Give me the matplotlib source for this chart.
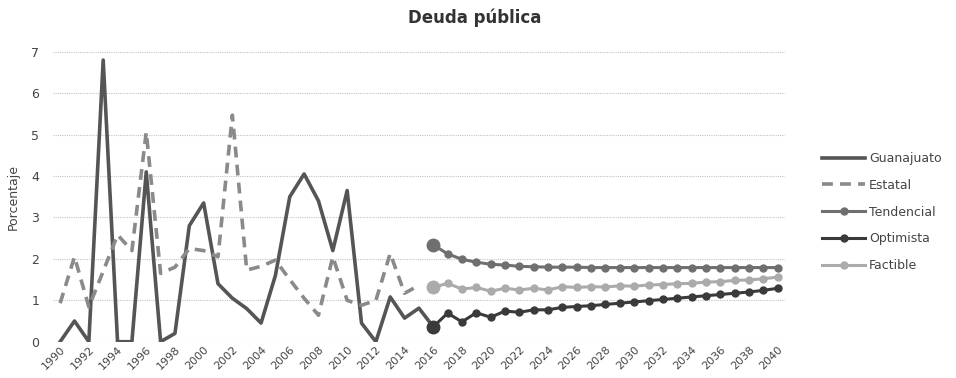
import numpy as np
import matplotlib.pyplot as plt

# historical series, 1990-2016
years_hist = np.arange(1990, 2017)
guanajuato = [0, 0.5, 0, 6.8, 0, 0, 4.1, 0, 0.2, 2.8, 3.35, 1.4, 1.05, 0.8, 0.45,
              1.6, 3.5, 4.05, 3.4, 2.2, 3.65, 0.45, 0, 1.08, 0.57, 0.81, 0.36]
years_est = np.arange(1990, 2016)
estatal = [0.93, 2.05, 0.84, 1.7, 2.58, 2.2, 5.06, 1.65, 1.8, 2.25, 2.2, 2.05, 5.47,
           1.73, 1.82, 1.97, 1.5, 1.05, 0.64, 2.05, 1.0, 0.88, 1.0, 2.13, 1.17, 1.36]

# scenarios, 2016-2040
years_fut = np.arange(2016, 2041)
tendencial = [2.34, 2.12, 1.99, 1.92, 1.87, 1.85, 1.82, 1.81, 1.8, 1.8, 1.8, 1.79, 1.79,
              1.79, 1.79, 1.79, 1.79, 1.79, 1.79, 1.79, 1.79, 1.79, 1.79, 1.79, 1.79]
optimista = [0.36, 0.69, 0.48, 0.7, 0.59, 0.74, 0.71, 0.77, 0.77, 0.83, 0.85, 0.87, 0.9,
             0.93, 0.96, 0.99, 1.02, 1.05, 1.08, 1.11, 1.14, 1.17, 1.2, 1.24, 1.29]
factible = [1.31, 1.41, 1.27, 1.31, 1.22, 1.29, 1.25, 1.29, 1.25, 1.33, 1.31, 1.33, 1.32,
            1.35, 1.34, 1.37, 1.38, 1.4, 1.41, 1.44, 1.45, 1.48, 1.49, 1.52, 1.56]

fig = plt.figure(figsize=(9.56, 3.78), dpi=100)
ax = fig.add_axes([0.0554, 0.096, 0.7656, 0.767])

ax.plot(years_hist, guanajuato, color='#555555', lw=2.6, label='Guanajuato', zorder=3)
ax.plot(years_est, estatal, color='#8a8a8a', lw=2.6, ls=(0, (3, 2)), label='Estatal', zorder=3)

scen = [(tendencial, '#6f6f6f', 'Tendencial'),
        (optimista, '#3a3a3a', 'Optimista'),
        (factible, '#ababab', 'Factible')]
for vals, col, name in scen:
    ax.plot(years_fut, vals, color=col, lw=2.2, marker='o', ms=5, label=name, zorder=4)
    ax.plot(years_fut[:1], vals[:1], color=col, marker='o', ms=9, ls='none', zorder=5)

ax.set_xlim(1989.5, 2040.5)
ax.set_ylim(0, 7)
ax.set_yticks(range(0, 8))
ax.set_xticks(range(1990, 2041, 2))
ax.tick_params(axis='x', labelrotation=45, labelsize=8, length=0, colors='#444444', pad=2)
ax.tick_params(axis='y', labelsize=9, length=0, colors='#444444', pad=10)
for lbl in ax.get_xticklabels():
    lbl.set_ha('right')
    lbl.set_rotation_mode('anchor')
ax.grid(axis='y', color='#c4c4c4', lw=0.8, ls=(0, (1, 1)))
ax.set_axisbelow(True)
for s in ax.spines.values():
    s.set_visible(False)

ax.set_ylabel('Porcentaje', fontsize=9, color='#444444', labelpad=8)
fig.text(0.497, 0.952, 'Deuda pública', ha='center', va='center', fontsize=12,
         fontweight='bold', color='#333333')

leg = ax.legend(loc='center left', bbox_to_anchor=(1.035, 0.447), frameon=False, fontsize=9,
                handlelength=3.5, labelspacing=1.1, handletextpad=0.3)
for t in leg.get_texts():
    t.set_color('#444444')

fig.savefig('out.png', dpi=100)
